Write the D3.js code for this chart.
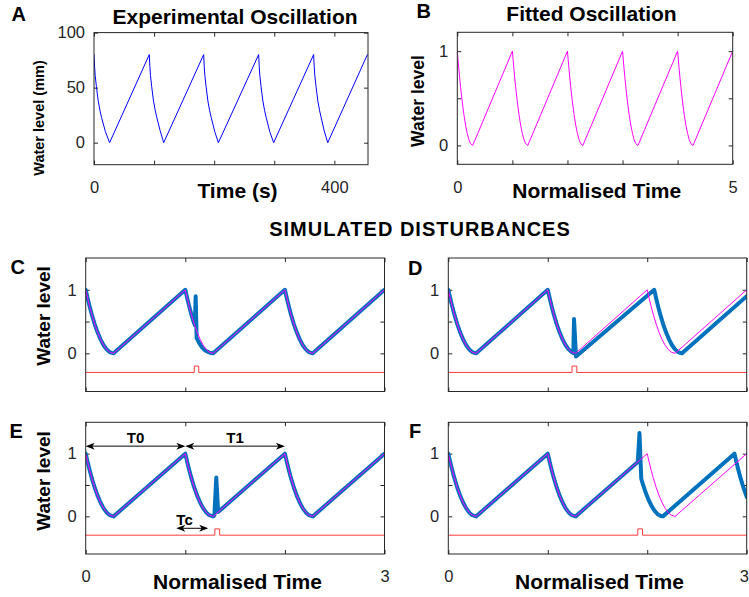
<!DOCTYPE html>
<html>
<head>
<meta charset="utf-8">
<script src="https://cdn.jsdelivr.net/npm/d3@7"></script>
<style>
  body { margin: 0; background: #fff; }
  svg { display: block; }
</style>
</head>
<body>
<svg id="fig" width="749" height="597"></svg>
<script>
// ---------------------------------------------------------------------------
// Data: [time, water level] pairs
// ---------------------------------------------------------------------------

// Measured oscillation (seconds, mm)
const experimentalOscillation = [
  [0, 80], [1, 69], [2, 61], [4, 51], [7, 38], [10, 29], [12.5, 23], [19, 10], [26, 0],
  [92, 80], [93, 69], [94, 61], [96, 51], [99, 38], [102, 29], [104.5, 23], [110, 11], [116, 0],
  [182.5, 80], [183.5, 69], [184.5, 61], [186.5, 51], [189.5, 38], [192.5, 29], [195, 23], [201, 10], [207, 0],
  [274, 80], [275, 69], [276, 61], [278, 51], [281, 38], [284, 29], [286.5, 23], [292.5, 10], [299, 0],
  [365.5, 80], [366.5, 69], [367.5, 61], [369.5, 51], [372.5, 38], [375.5, 29], [378, 23], [383, 11], [389, 0],
  [455, 80]
];

// Fitted oscillation (normalised time, normalised level)
const fittedOscillation = [
  [0, 1], [0.02, 0.862], [0.04, 0.735], [0.06, 0.617], [0.09, 0.461], [0.12, 0.327], [0.15, 0.216], [0.18, 0.128], [0.21, 0.063], [0.24, 0.02], [0.28, 0],
  [1, 1], [1.02, 0.862], [1.04, 0.735], [1.06, 0.617], [1.09, 0.461], [1.12, 0.327], [1.15, 0.216], [1.18, 0.128], [1.21, 0.063], [1.24, 0.02], [1.28, 0],
  [2, 1], [2.02, 0.862], [2.04, 0.735], [2.06, 0.617], [2.09, 0.461], [2.12, 0.327], [2.15, 0.216], [2.18, 0.128], [2.21, 0.063], [2.24, 0.02], [2.28, 0],
  [3, 1], [3.02, 0.862], [3.04, 0.735], [3.06, 0.617], [3.09, 0.461], [3.12, 0.327], [3.15, 0.216], [3.18, 0.128], [3.21, 0.063], [3.24, 0.02], [3.28, 0],
  [4, 1], [4.02, 0.862], [4.04, 0.735], [4.06, 0.617], [4.09, 0.461], [4.12, 0.327], [4.15, 0.216], [4.18, 0.128], [4.21, 0.063], [4.24, 0.02], [4.28, 0],
  [5, 1]
];

// Undisturbed simulated oscillation, shared by panels C-F
const undisturbedOscillation = [
  [0, 1], [0.02, 0.862], [0.04, 0.735], [0.06, 0.617], [0.09, 0.461], [0.12, 0.327], [0.15, 0.216], [0.18, 0.128], [0.21, 0.063], [0.24, 0.02], [0.28, 0],
  [1, 1], [1.02, 0.862], [1.04, 0.735], [1.06, 0.617], [1.09, 0.461], [1.12, 0.327], [1.15, 0.216], [1.18, 0.128], [1.21, 0.063], [1.24, 0.02], [1.28, 0],
  [2, 1], [2.02, 0.862], [2.04, 0.735], [2.06, 0.617], [2.09, 0.461], [2.12, 0.327], [2.15, 0.216], [2.18, 0.128], [2.21, 0.063], [2.24, 0.02], [2.28, 0],
  [3, 1]
];

// Disturbed responses
const disturbedC = [
  [0, 1], [0.02, 0.862], [0.04, 0.735], [0.06, 0.617], [0.09, 0.461], [0.12, 0.327], [0.15, 0.216], [0.18, 0.128], [0.21, 0.063], [0.24, 0.02], [0.28, 0],
  [1, 1], [1.02, 0.862], [1.04, 0.735], [1.06, 0.617], [1.08, 0.51], [1.096, 0.44], [1.104, 0.9], [1.114, 0.24],
  [1.14, 0.16], [1.17, 0.09], [1.2, 0.045], [1.24, 0.012], [1.28, 0],
  [2, 1], [2.02, 0.862], [2.04, 0.735], [2.06, 0.617], [2.09, 0.461], [2.12, 0.327], [2.15, 0.216], [2.18, 0.128], [2.21, 0.063], [2.24, 0.02], [2.28, 0],
  [3, 1]
];

const disturbedD = [
  [0, 1], [0.02, 0.862], [0.04, 0.735], [0.06, 0.617], [0.09, 0.461], [0.12, 0.327], [0.15, 0.216], [0.18, 0.128], [0.21, 0.063], [0.24, 0.02], [0.28, 0],
  [1, 1], [1.02, 0.862], [1.04, 0.735], [1.06, 0.617], [1.09, 0.461], [1.12, 0.327], [1.15, 0.216], [1.18, 0.128], [1.21, 0.063], [1.24, 0.02],
  [1.257, 0.003], [1.264, 0.54], [1.284, -0.05],
  [2.07, 1], [2.09, 0.862], [2.11, 0.735], [2.13, 0.617], [2.16, 0.461], [2.19, 0.327], [2.22, 0.216], [2.25, 0.128], [2.28, 0.063], [2.31, 0.02], [2.35, 0],
  [3, 0.9]
];

const disturbedE = [
  [0, 1], [0.02, 0.862], [0.04, 0.735], [0.06, 0.617], [0.09, 0.461], [0.12, 0.327], [0.15, 0.216], [0.18, 0.128], [0.21, 0.063], [0.24, 0.02], [0.28, 0],
  [1, 1], [1.02, 0.862], [1.04, 0.735], [1.06, 0.617], [1.09, 0.461], [1.12, 0.327], [1.15, 0.216], [1.18, 0.128], [1.21, 0.063], [1.24, 0.02], [1.28, 0],
  [1.292, 0.016], [1.311, 0.62], [1.33, 0.07],
  [2, 1], [2.02, 0.862], [2.04, 0.735], [2.06, 0.617], [2.09, 0.461], [2.12, 0.327], [2.15, 0.216], [2.18, 0.128], [2.21, 0.063], [2.24, 0.02], [2.28, 0],
  [3, 1]
];

const disturbedF = [
  [0, 1], [0.02, 0.862], [0.04, 0.735], [0.06, 0.617], [0.09, 0.461], [0.12, 0.327], [0.15, 0.216], [0.18, 0.128], [0.21, 0.063], [0.24, 0.02], [0.28, 0],
  [1, 1], [1.02, 0.862], [1.04, 0.735], [1.06, 0.617], [1.09, 0.461], [1.12, 0.327], [1.15, 0.216], [1.18, 0.128], [1.21, 0.063], [1.24, 0.02], [1.28, 0],
  [1.905, 0.868], [1.922, 1.33], [1.94, 0.6],
  [1.957, 0.51], [1.987, 0.368], [2.017, 0.25], [2.047, 0.154], [2.077, 0.082], [2.107, 0.032], [2.137, 0.005], [2.157, 0],
  [2.877, 1], [2.897, 0.862], [2.917, 0.735], [2.937, 0.617], [2.967, 0.461], [2.997, 0.327], [3, 0.31]
];

// Disturbance pulses (start, end) in normalised time
const pulseC = [1.09, 1.135];
const pulseD = [1.244, 1.292];
const pulseE = [1.297, 1.345];
const pulseF = [1.905, 1.953];
const pulseBase = -0.3;
const pulseTop = -0.2;

// Axis ticks and the ticks that carry labels
const ticksA_x = [0, 100, 200, 300, 400];
const labelsA_x = [0, 400];
const ticksA_y = [0, 50, 100];
const labelsA_y = [0, 50, 100];
const ticksB_x = [0, 1, 2, 3, 4, 5];
const labelsB_x = [0, 5];
const ticksLevel = [0, 0.5, 1];
const labelsLevel = [0, 1];
const ticksSim_x = [0, 1, 2, 3];
const labelsSim_x = [0, 3];

// Period annotations in panel E: [start, end, label]
const periodArrows = [[0, 1, "T0"], [1, 2, "T1"]];
const tcArrow = [0.91, 1.23, "Tc"];

// ---------------------------------------------------------------------------
// Drawing
// ---------------------------------------------------------------------------
const FONT = "'Liberation Sans', Arial, Helvetica, sans-serif";
const AXIS_COLOR = "#262626";
const svg = d3.select("#fig");

function pulseSeries(p) {
  return [[0, pulseBase], [p[0], pulseBase], [p[0], pulseTop], [p[1], pulseTop], [p[1], pulseBase], [3, pulseBase]];
}

function makePanel(cfg) {
  const x = d3.scaleLinear().domain(cfg.xDomain).range([cfg.left, cfg.right]);
  const y = d3.scaleLinear().domain(cfg.yDomain).range([cfg.bottom, cfg.top]);
  const g = svg.append("g");
  const clipId = "clip-" + cfg.id;
  svg.append("clipPath").attr("id", clipId)
    .append("rect")
    .attr("x", cfg.left).attr("y", cfg.top)
    .attr("width", cfg.right - cfg.left).attr("height", cfg.bottom - cfg.top);

  const fmt = (labels) => (d) => labels.includes(d) ? String(d) : "";

  // bottom axis with inward ticks
  const bx = g.append("g").attr("transform", `translate(0,${cfg.bottom})`)
    .call(d3.axisBottom(x).tickValues(cfg.xTicks).tickSizeInner(-4).tickSizeOuter(0)
      .tickPadding(16.5).tickFormat(fmt(cfg.xLabels)));
  // top axis (ticks only)
  const tx = g.append("g").attr("transform", `translate(0,${cfg.top})`)
    .call(d3.axisTop(x).tickValues(cfg.xTicks).tickSizeInner(-4).tickSizeOuter(0).tickFormat(""));
  // left axis with labels
  const ly = g.append("g").attr("transform", `translate(${cfg.left},0)`)
    .call(d3.axisLeft(y).tickValues(cfg.yTicks).tickSizeInner(-4).tickSizeOuter(0)
      .tickPadding(9).tickFormat(fmt(cfg.yLabels)));
  // right axis (ticks only)
  const ry = g.append("g").attr("transform", `translate(${cfg.right},0)`)
    .call(d3.axisRight(y).tickValues(cfg.yTicks).tickSizeInner(-4).tickSizeOuter(0).tickFormat(""));

  [bx, tx, ly, ry].forEach(a => {
    a.select(".domain").remove();
    a.selectAll(".tick line").attr("stroke", AXIS_COLOR).attr("stroke-width", 1);
    a.selectAll(".tick text").attr("fill", AXIS_COLOR)
      .style("font-family", FONT).style("font-size", "16.5px");
  });

  // keep an end label that would run past the page edge inside it
  if (cfg.clampLastLabel) {
    bx.selectAll(".tick text")
      .filter(d => d === cfg.xDomain[1])
      .attr("text-anchor", "end")
      .attr("x", 749 - 0.5 - cfg.right);
  }

  const plot = g.append("g").attr("clip-path", `url(#${clipId})`);
  const line = d3.line().x(d => x(d[0])).y(d => y(d[1]));

  (cfg.series || []).forEach(s => {
    plot.append("path").datum(s.data)
      .attr("d", line)
      .attr("fill", "none")
      .attr("stroke", s.color)
      .attr("stroke-width", s.width)
      .attr("stroke-linejoin", "round")
      .attr("stroke-linecap", "round");
  });

  // axes box
  g.append("rect")
    .attr("x", cfg.left).attr("y", cfg.top)
    .attr("width", cfg.right - cfg.left).attr("height", cfg.bottom - cfg.top)
    .attr("fill", "none").attr("stroke", AXIS_COLOR).attr("stroke-width", 1);

  // panel letter
  g.append("text").text(cfg.letter)
    .attr("x", cfg.letterPos[0]).attr("y", cfg.letterPos[1])
    .style("font-family", FONT).style("font-size", "20px").style("font-weight", "bold");

  if (cfg.title) {
    g.append("text").text(cfg.title.text)
      .attr("x", cfg.title.x).attr("y", cfg.title.y).attr("text-anchor", "middle")
      .style("font-family", FONT).style("font-size", "21px").style("font-weight", "bold");
  }
  if (cfg.xLabel) {
    g.append("text").text(cfg.xLabel.text)
      .attr("x", cfg.xLabel.x).attr("y", cfg.xLabel.y).attr("text-anchor", "middle")
      .style("font-family", FONT).style("font-size", "21px").style("font-weight", "bold");
  }
  if (cfg.yLabel) {
    g.append("text").text(cfg.yLabel.text)
      .attr("transform", `translate(${cfg.yLabel.x},${cfg.yLabel.y}) rotate(-90)`)
      .attr("text-anchor", "middle")
      .style("font-family", FONT).style("font-size", cfg.yLabel.size + "px").style("font-weight", "bold");
  }
  return { g, x, y };
}

const SIM_COLORS = { disturbed: "#0072bd", base: "#ff00ff", pulse: "#ff3a3a" };

function simSeries(disturbed, pulse) {
  return [
    { data: pulseSeries(pulse), color: SIM_COLORS.pulse, width: 1 },
    { data: disturbed, color: SIM_COLORS.disturbed, width: 4 },
    { data: undisturbedOscillation, color: SIM_COLORS.base, width: 1 }
  ];
}

// Panel A: experimental oscillation
makePanel({
  id: "A", left: 94, right: 368, top: 32.6, bottom: 164.7,
  xDomain: [0, 456], yDomain: [-20, 100],
  xTicks: ticksA_x, xLabels: labelsA_x, yTicks: ticksA_y, yLabels: labelsA_y,
  series: [{ data: experimentalOscillation, color: "#0000ff", width: 1 }],
  letter: "A", letterPos: [11.5, 20.8],
  title: { text: "Experimental Oscillation", x: 235, y: 23.5 },
  xLabel: { text: "Time (s)", x: 237.5, y: 198 },
  yLabel: { text: "Water level (mm)", x: 44, y: 118, size: 14.5 }
});

// Panel B: fitted oscillation
makePanel({
  id: "B", left: 457.3, right: 732.7, top: 32.3, bottom: 164.3,
  xDomain: [0, 5], yDomain: [-0.2, 1.2],
  xTicks: ticksB_x, xLabels: labelsB_x, yTicks: ticksLevel, yLabels: labelsLevel,
  series: [{ data: fittedOscillation, color: "#ff00ff", width: 1 }],
  letter: "B", letterPos: [416.5, 17.5],
  title: { text: "Fitted Oscillation", x: 591.5, y: 21 },
  xLabel: { text: "Normalised Time", x: 596.7, y: 198 },
  yLabel: { text: "Water level", x: 424, y: 101, size: 17.5 }
});

// Section heading
svg.append("text").text("SIMULATED DISTURBANCES")
  .attr("x", 420).attr("y", 236).attr("text-anchor", "middle")
  .style("font-family", FONT).style("font-size", "20px").style("font-weight", "bold")
  .style("letter-spacing", "1px");

const simRows = { top1: 258, bottom1: 391.5, top2: 422.3, bottom2: 554 };
const simCols = { l1: 85.7, r1: 384.5, l2: 448.3, r2: 746.7 };

makePanel({
  id: "C", left: simCols.l1, right: simCols.r1, top: simRows.top1, bottom: simRows.bottom1,
  xDomain: [0, 3], yDomain: [-0.6, 1.5],
  xTicks: ticksSim_x, xLabels: [], yTicks: ticksLevel, yLabels: labelsLevel,
  series: simSeries(disturbedC, pulseC),
  letter: "C", letterPos: [10.5, 274],
  yLabel: { text: "Water level", x: 50, y: 316, size: 19 }
});

makePanel({
  id: "D", left: simCols.l2, right: simCols.r2, top: simRows.top1, bottom: simRows.bottom1,
  xDomain: [0, 3], yDomain: [-0.6, 1.5],
  xTicks: ticksSim_x, xLabels: [], yTicks: ticksLevel, yLabels: labelsLevel,
  series: simSeries(disturbedD, pulseD),
  letter: "D", letterPos: [408, 275]
});

const panelE = makePanel({
  id: "E", left: simCols.l1, right: simCols.r1, top: simRows.top2, bottom: simRows.bottom2,
  xDomain: [0, 3], yDomain: [-0.6, 1.5],
  xTicks: ticksSim_x, xLabels: labelsSim_x, yTicks: ticksLevel, yLabels: labelsLevel,
  series: simSeries(disturbedE, pulseE),
  letter: "E", letterPos: [9.5, 438.3],
  xLabel: { text: "Normalised Time", x: 237.5, y: 589 },
  yLabel: { text: "Water level", x: 50, y: 481, size: 19 }
});

makePanel({
  id: "F", left: simCols.l2, right: simCols.r2, top: simRows.top2, bottom: simRows.bottom2,
  xDomain: [0, 3], yDomain: [-0.6, 1.5],
  xTicks: ticksSim_x, xLabels: labelsSim_x, yTicks: ticksLevel, yLabels: labelsLevel,
  series: simSeries(disturbedF, pulseF),
  letter: "F", letterPos: [409, 438.3],
  xLabel: { text: "Normalised Time", x: 599.5, y: 588.5 },
  clampLastLabel: true
});

// Double-headed arrows marking the periods in panel E
function doubleArrow(g, x1, x2, yPix) {
  const len = 9, half = 3.5;
  g.append("line").attr("x1", x1 + 2).attr("x2", x2 - 2).attr("y1", yPix).attr("y2", yPix)
    .attr("stroke", "#000").attr("stroke-width", 1);
  const head = (tip, dir) =>
    `M${tip},${yPix} L${tip + dir * len},${yPix - half} L${tip + dir * (len - 2.5)},${yPix} L${tip + dir * len},${yPix + half} Z`;
  g.append("path").attr("d", head(x1, 1)).attr("fill", "#000");
  g.append("path").attr("d", head(x2, -1)).attr("fill", "#000");
}

const ann = svg.append("g");
const arrowLevel = 1.12, arrowLabelLevel = 1.175;
periodArrows.forEach(([a, b, lbl]) => {
  doubleArrow(ann, panelE.x(a), panelE.x(b), panelE.y(arrowLevel));
  ann.append("text").text(lbl)
    .attr("x", panelE.x((a + b) / 2)).attr("y", panelE.y(arrowLabelLevel))
    .attr("text-anchor", "middle")
    .style("font-family", FONT).style("font-size", "15px").style("font-weight", "bold");
});
const tcLevel = -0.19, tcLabelLevel = -0.135;
doubleArrow(ann, panelE.x(tcArrow[0]), panelE.x(tcArrow[1]), panelE.y(tcLevel));
ann.append("text").text(tcArrow[2])
  .attr("x", panelE.x(tcArrow[0])).attr("y", panelE.y(tcLabelLevel))
  .style("font-family", FONT).style("font-size", "15px").style("font-weight", "bold");
</script>
</body>
</html>
